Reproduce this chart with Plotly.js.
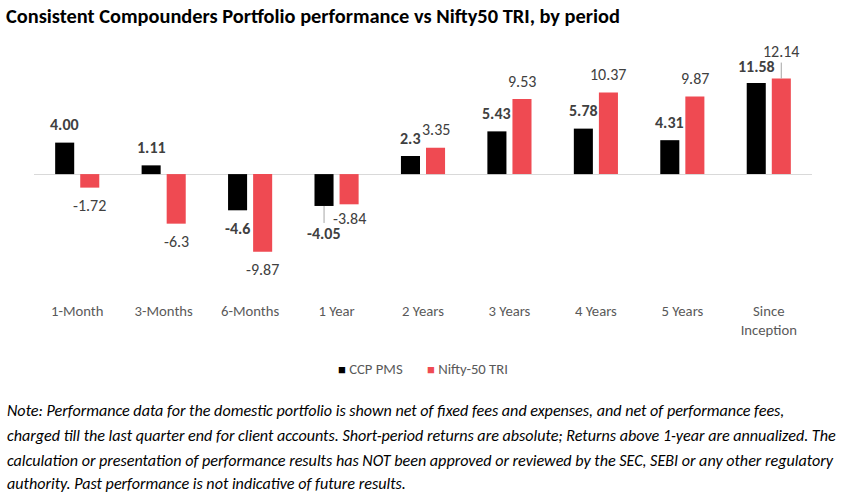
<!DOCTYPE html>
<html>
<head>
<meta charset="utf-8">
<script src="https://cdn.plot.ly/plotly-3.0.1.min.js"></script>
<style>html,body{margin:0;padding:0;background:#fff;}#chart{width:850px;height:495px;}</style>
</head>
<body>
<div id="chart"></div>
<script>
const categories = ["1-Month","3-Months","6-Months","1 Year","2 Years","3 Years","4 Years","5 Years","Since<br>Inception"];
const ccpPms = [4.00, 1.11, -4.6, -4.05, 2.3, 5.43, 5.78, 4.31, 11.58];
const ccpLabels = ["4.00","1.11","-4.6","-4.05","2.3","5.43","5.78","4.31","11.58"];
const nifty50Tri = [-1.72, -6.3, -9.87, -3.84, 3.35, 9.53, 10.37, 9.87, 12.14];
const niftyLabels = ["-1.72","-6.3","-9.87","-3.84","3.35","9.53","10.37","9.87","12.14"];
const seriesNames = ["CCP PMS", "Nifty-50 TRI"];
const titleText = "Consistent Compounders Portfolio performance vs Nifty50 TRI, by period";
const noteLines = [
  "Note: Performance data for the domestic portfolio is shown net of fixed fees and expenses, and net of performance fees,",
  "charged till the last quarter end for client accounts. Short-period returns are absolute; Returns above 1-year are annualized. The",
  "calculation or presentation of performance results has NOT been approved or reviewed by the SEC, SEBI or any other regulatory",
  "authority. Past performance is not indicative of future results."
];

const FONT = "Carlito, Calibri, Lato, 'Liberation Sans', sans-serif";
const BLACK = "#000000", RED = "#EF4A52", LABEL = "#404040", AXIS = "#595959";
const seriesColors = [BLACK, RED];

const traces = [
  {type:"bar", name:seriesNames[0], x:categories, y:ccpPms, marker:{color:BLACK}, hoverinfo:"skip", showlegend:false},
  {type:"bar", name:seriesNames[1], x:categories, y:nifty50Tri, marker:{color:RED}, hoverinfo:"skip", showlegend:false}
];

// plot geometry (layout only)
const M = {l:34, r:38, t:60, b:195};
const PW = 850 - M.l - M.r, PH = 495 - M.t - M.b;
const px2paperX = p => (p - M.l) / PW;
const px2paperY = p => (495 - M.b - p) / PH;

// label placement tweaks (layout only)
const GAP = 18, XOFF = 12.5;
const leaderCcp = {3: 28};
const leaderNifty = {8: -27};
const shiftCcp = {8: 16};
const shiftNifty = {3: -14};
const annotations = [];
function addLabels(vals, labels, sign, leaders, shifts, bold) {
  vals.forEach((v,i)=>{
    const a = {x:categories[i], y:v, xref:"x", yref:"y", text:labels[i], xshift:sign*XOFF,
      font:{family:FONT, size:16, color:LABEL, weight:bold?"bold":"normal"}};
    if (leaders[i] !== undefined) {
      Object.assign(a,{showarrow:true, ax:0, ay:leaders[i], arrowhead:0, arrowwidth:1, arrowcolor:"#a6a6a6"});
    } else {
      const s = shifts[i] !== undefined ? shifts[i] : (v>=0?GAP:-GAP);
      Object.assign(a,{showarrow:false, yanchor:"middle", yshift:s});
    }
    annotations.push(a);
  });
}
addLabels(ccpPms, ccpLabels, -1, leaderCcp, shiftCcp, true);
addLabels(nifty50Tri, niftyLabels, 1, leaderNifty, shiftNifty, false);

// legend drawn as text (small squares close to labels like the reference)
const legendX = [336, 425];
seriesNames.forEach((n,i)=>{
  annotations.push({xref:"paper", yref:"paper", x:px2paperX(legendX[i]), y:px2paperY(368.5), xanchor:"left", yanchor:"middle",
    showarrow:false, text:'<span style="color:'+seriesColors[i]+';font-size:13px">\u25A0</span> '+n,
    font:{family:FONT, size:14.7, color:AXIS}});
});

// note lines
const noteY = [410, 435.5, 460.5, 483];
noteLines.forEach((t,i)=>{
  annotations.push({xref:"paper", yref:"paper", x:px2paperX(5), y:px2paperY(noteY[i]), xanchor:"left", yanchor:"middle", align:"left",
    showarrow:false, text:t, font:{family:FONT, size:16.1, color:"#000000", style:"italic"}});
});

const layout = {
  width:850, height:495,
  margin:{l:M.l, r:M.r, t:M.t, b:M.b, pad:0},
  paper_bgcolor:"#ffffff", plot_bgcolor:"#ffffff",
  title:{text:titleText, x:0.007, xanchor:"left", xref:"container", y:0.968, yanchor:"middle", yref:"container",
    font:{family:FONT, size:20.4, color:"#000000", weight:"bold"}},
  barmode:"group", bargap:0.42, bargroupgap:0.24,
  xaxis:{type:"category", showgrid:false, showline:false, zeroline:false, ticks:"",
    tickfont:{family:FONT, size:14.7, color:AXIS}, fixedrange:true},
  yaxis:{range:[-16.0, 14.5], showgrid:false, showline:false, showticklabels:false, ticks:"",
    zeroline:true, zerolinecolor:"#d9d9d9", zerolinewidth:1, fixedrange:true},
  showlegend:false,
  annotations:annotations
};
Plotly.newPlot("chart", traces, layout, {displayModeBar:false, staticPlot:true});
</script>
</body>
</html>
